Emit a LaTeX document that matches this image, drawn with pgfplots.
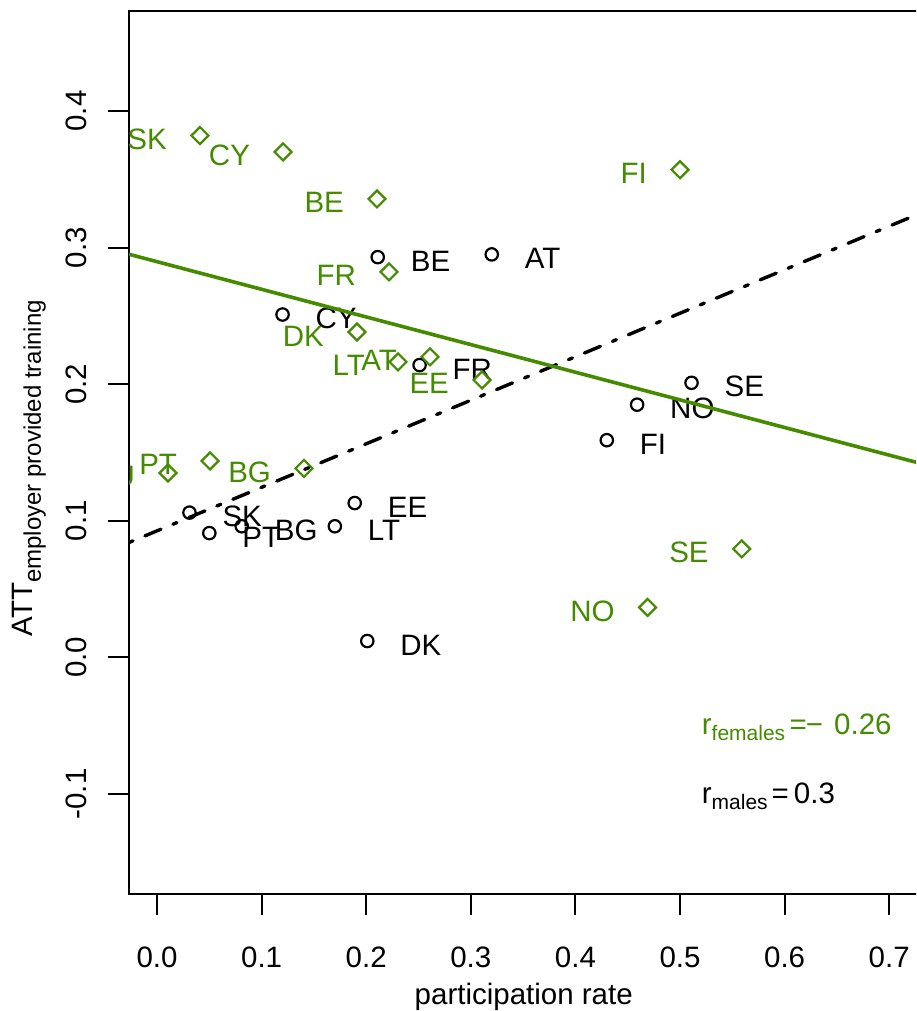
\documentclass[border=0pt]{standalone}
\usepackage{fontspec}
\setmainfont{Liberation Sans}
\usepackage{pgfplots}
\usepackage{pgfplotstable}
\pgfplotsset{compat=1.18}

\definecolor{fem}{RGB}{69,139,0}
\newcommand{\lab}{\fontsize{29.5}{32}\selectfont}
\newcommand{\sublab}{\fontsize{24}{24}\selectfont}
\newcommand{\subann}{\fontsize{21}{21}\selectfont}

% participation rate (x) and ATT (y), males
\pgfplotstableread{
x      y      label
0.320  0.295  AT
0.211  0.293  BE
0.120  0.251  CY
0.251  0.214  FR
0.511  0.201  SE
0.459  0.185  NO
0.430  0.159  FI
0.189  0.113  EE
0.031  0.106  SK
0.050  0.091  PT
0.081  0.096  BG
0.170  0.096  LT
0.201  0.012  DK
}\males

% participation rate (x) and ATT (y), females
\pgfplotstableread{
x      y      label
0.041  0.382  SK
0.1205 0.370  CY
0.2103 0.3356 BE
0.500  0.357  FI
0.2218 0.2822 FR
0.1912 0.2382 DK
0.2304 0.2163 LT
0.261  0.220  AT
0.3107 0.2031 EE
0.0507 0.1438 PT
0.0105 0.135  HU
0.1405 0.1384 BG
0.559  0.0794 SE
0.469  0.0366 NO
}\females

\begin{document}
\begin{tikzpicture}
\useasboundingbox (0pt,0pt) rectangle (916pt,1011pt);
\clip (0pt,0pt) rectangle (916pt,1011pt);
\begin{axis}[
  at={(129pt,117pt)}, anchor=south west,
  scale only axis, width=789.5pt, height=883pt,
  xmin=-0.0268, xmax=0.728, ymin=-0.1732, ymax=0.4732,
  axis line style={line width=2pt},
  tick style={line width=2pt, black},
  tick align=outside, major tick length=21pt,
  xtick pos=left, ytick pos=left,
  xtick={0,0.1,0.2,0.3,0.4,0.5,0.6,0.7},
  xticklabels={0.0,0.1,0.2,0.3,0.4,0.5,0.6,0.7},
  ytick={-0.1,0,0.1,0.2,0.3,0.4},
  yticklabels={-0.1,0.0,0.1,0.2,0.3,0.4},
  /pgf/number format/assume math mode=true,
  tick label style={font=\lab},
  xticklabel style={anchor=center, yshift=-42pt},
  yticklabel style={anchor=center, xshift=-32pt, rotate=90},
  xlabel={participation rate},
  xlabel style={font=\lab, at={(axis description cs:0.5,0)}, anchor=base, yshift=-110pt},
  ylabel={ATT\raisebox{-8pt}{\sublab employer provided training}},
  ylabel style={font=\lab, at={(axis description cs:-0.1216,0.2877)}, anchor=base west, rotate=0},
  clip marker paths=true,
  every node near coord/.append style={font=\lab, inner sep=0pt},
]
% males: open circles, labels to the right
\addplot[only marks, mark=o, mark size=6.2pt, mark options={line width=2.2pt, black},
  nodes near coords, point meta=explicit symbolic,
  every node near coord/.append style={anchor=base west, xshift=32pt, yshift=-14pt, text=black}]
  table[x=x, y=y, meta=label] {\males};
% females: open diamonds, labels to the left
\addplot[only marks, mark=square, mark size=6pt, mark options={line width=2.2pt, fem, rotate=45},
  nodes near coords, point meta=explicit symbolic,
  every node near coord/.append style={anchor=base east, xshift=-32pt, yshift=-14pt, text=fem}]
  table[x=x, y=y, meta=label] {\females};
% fitted lines across the plot region
\addplot[black, line width=3.4pt, line cap=round,
  dash pattern=on 4.3pt off 13pt on 17.3pt off 13pt]
  coordinates {(-0.0268,0.0841) (0.728,0.3246)};
\addplot[fem, line width=3.6pt]
  coordinates {(-0.0268,0.2951) (0.728,0.1424)};
% correlation notes
\node[anchor=base west, inner sep=0pt, text=fem, font=\lab] at (axis cs:0.5207,-0.0568)
  {r\raisebox{-6pt}{\subann females}\hspace{4.5pt}=\hspace{-1pt}\char"2212\hspace{11pt}0.26};
\node[anchor=base west, inner sep=0pt, text=black, font=\lab] at (axis cs:0.5207,-0.1066)
  {r\raisebox{-6pt}{\subann males}\hspace{4pt}=\hspace{5pt}0.3};
\end{axis}
\end{tikzpicture}
\end{document}
